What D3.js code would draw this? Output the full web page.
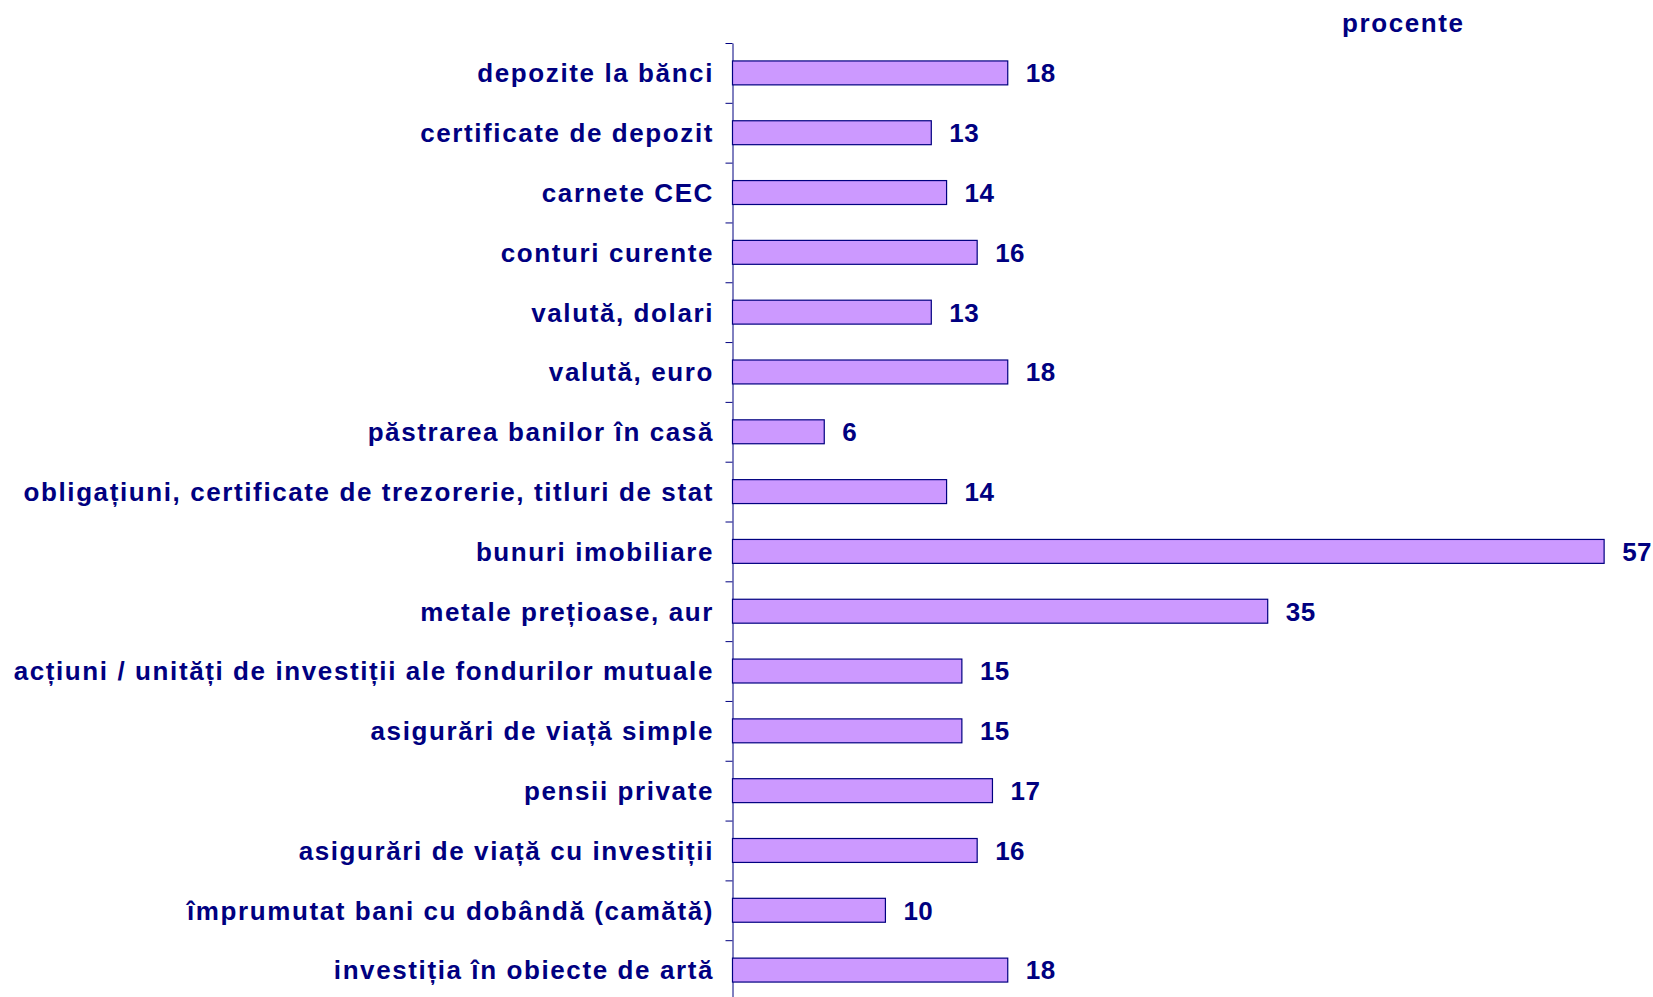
<!DOCTYPE html>
<html lang="ro">
<head>
<meta charset="UTF-8">
<script src="https://d3js.org/d3.v7.min.js"></script>
<style>
  body { margin: 0; background: #fff; }
  text { font-family: "Liberation Sans", Arial, sans-serif; font-weight: bold; fill: #000080; }
</style>
</head>
<body>
<div id="chart"></div>
<script>
    // categories, top to bottom
    const categories = [
        "depozite la bănci",
        "certificate de depozit",
        "carnete CEC",
        "conturi curente",
        "valută, dolari",
        "valută, euro",
        "păstrarea banilor în casă",
        "obligațiuni, certificate de trezorerie, titluri de stat",
        "bunuri imobiliare",
        "metale prețioase, aur",
        "acțiuni / unități de investiții ale fondurilor mutuale",
        "asigurări de viață simple",
        "pensii private",
        "asigurări de viață cu investiții",
        "împrumutat bani cu dobândă (camătă)",
        "investiția în obiecte de artă"
    ]
    // percentages
    const values = [18, 13, 14, 16, 13, 18, 6, 14, 57, 35, 15, 15, 17, 16, 10, 18]
    const unitLabel = "procente"

    const width = 1653
    const height = 997

    const svg = d3.select("#chart")
        .append("svg")
        .attr("width", width)
        .attr("height", height)

    const axisX = 732.5
    const plotTop = 43
    const plotBottom = 1000

    // value scale
    const x = d3.scaleLinear()
        .domain([0, 60])
        .range([axisX, 1650])

    // one band per category
    const y = d3.scaleBand()
        .domain(categories)
        .range([plotTop, plotBottom])
        .paddingInner(0.6)
        .paddingOuter(0.3)

    // tick marks sit between the bands
    const yIdx = d3.scaleLinear()
        .domain([0, categories.length])
        .range([plotTop, plotBottom])

    const axis = svg.append("g")
        .attr("transform", `translate(${axisX},0)`)
        .call(d3.axisLeft(yIdx).ticks(categories.length).tickSize(7).tickFormat("").tickSizeOuter(0))
    axis.select(".domain").attr("stroke", "#000080")
    axis.selectAll(".tick line").attr("stroke", "#000080")

    // bars
    svg.append("g")
        .selectAll("rect")
        .data(values)
        .join("rect")
            .attr("x", x(0))
            .attr("y", (d, i) => y(categories[i]))
            .attr("width", d => x(d) - x(0))
            .attr("height", y.bandwidth())
            .attr("fill", "#CC99FF")
            .attr("stroke", "#000080")
            .attr("stroke-width", 1.2)

    // category labels
    svg.append("g")
        .selectAll("text")
        .data(categories)
        .join("text")
            .attr("x", 714)
            .attr("y", d => y(d) + y.bandwidth() / 2)
            .attr("dy", "0.36em")
            .attr("text-anchor", "end")
            .style("font-size", "26px")
            .style("letter-spacing", "1.6px")
            .text(d => d)

    // value labels
    svg.append("g")
        .selectAll("text")
        .data(values)
        .join("text")
            .attr("x", d => x(d) + 18)
            .attr("y", (d, i) => y(categories[i]) + y.bandwidth() / 2)
            .attr("dy", "0.36em")
            .style("font-size", "26px")
            .style("letter-spacing", "0.5px")
            .text(d => d)

    svg.append("text")
        .attr("x", 1342)
        .attr("y", 32)
        .style("font-size", "26px")
        .style("letter-spacing", "1.6px")
        .text(unitLabel)
</script>
</body>
</html>
